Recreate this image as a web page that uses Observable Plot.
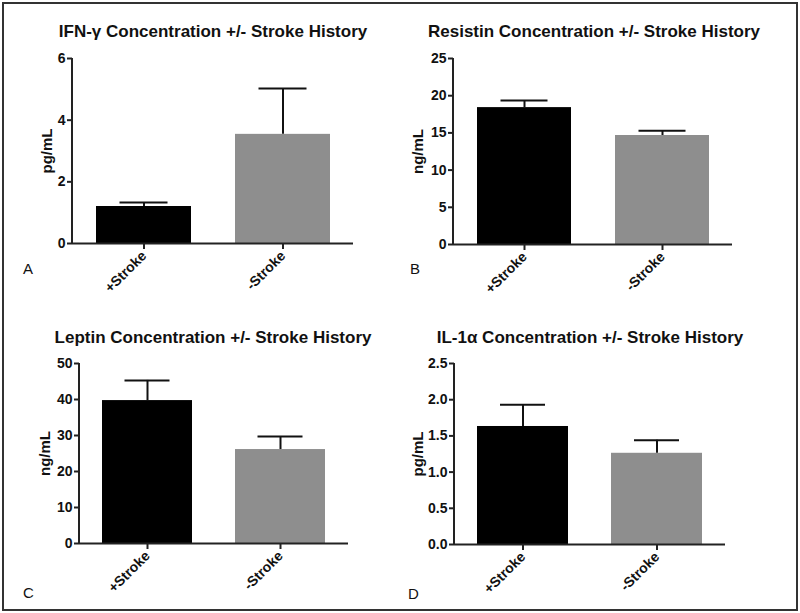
<!DOCTYPE html>
<html>
<head>
<meta charset="utf-8">
<script src="https://cdn.jsdelivr.net/npm/d3@7"></script>
<script src="https://cdn.jsdelivr.net/npm/@observablehq/plot@0.6"></script>
<style>
  html, body { margin: 0; padding: 0; background: #fff; }
  #root { position: relative; width: 800px; height: 613px; overflow: hidden; font-family: "Liberation Sans", Arial, sans-serif; }
  #border { position: absolute; left: 2px; top: 2px; width: 792px; height: 605px; border: 2px solid #333; }
  .panel { position: absolute; }
  .title { position: absolute; font-size: 17px; font-weight: bold; line-height: 17px; white-space: nowrap; transform: translateX(-50%); color: #111; }
  .letter { position: absolute; font-size: 15px; line-height: 15px; color: #111; }
</style>
</head>
<body>
<div id="root"><div id="border"></div></div>
<script>
// ---- data ----
const groups = ["+Stroke", "-Stroke"];
const barColors = ["#000000", "#8e8e8e"];

const ifnMean = [1.2, 3.54];
const ifnSem = [0.13, 1.49];
const ifnTicks = [0, 2, 4, 6];

const resistinMean = [18.4, 14.65];
const resistinSem = [0.95, 0.65];
const resistinTicks = [0, 5, 10, 15, 20, 25];

const leptinMean = [39.7, 26.1];
const leptinSem = [5.6, 3.6];
const leptinTicks = [0, 10, 20, 30, 40, 50];

const il1aMean = [1.63, 1.26];
const il1aSem = [0.30, 0.18];
const il1aTicks = [0, 0.5, 1.0, 1.5, 2.0, 2.5];

const titles = [
  "IFN-\u03b3 Concentration +/- Stroke History",
  "Resistin Concentration +/- Stroke History",
  "Leptin Concentration +/- Stroke History",
  "IL-1\u03b1 Concentration +/- Stroke History"
];
const units = ["pg/mL", "ng/mL", "ng/mL", "pg/mL"];
const letters = ["A", "B", "C", "D"];

// ---- layout ----
const FONT = '"Liberation Sans", Arial, sans-serif';
const panels = [
  {mean: ifnMean, sem: ifnSem, ticks: ifnTicks, fmt: d3.format("d"), left: 0, top: 0,
   m: {l: 72, r: 47, t: 58, b: 63}, cap: 23.5, labelDx: -25, titleX: 213, titleY: 23, letterX: 23, letterY: 261},
  {mean: resistinMean, sem: resistinSem, ticks: resistinTicks, fmt: d3.format("d"), left: 400, top: 0,
   m: {l: 53, r: 68, t: 58, b: 62}, cap: 23.5, labelDx: -35, titleX: 594, titleY: 23, letterX: 410, letterY: 261},
  {mean: leptinMean, sem: leptinSem, ticks: leptinTicks, fmt: d3.format("d"), left: 0, top: 300,
   m: {l: 79, r: 52, t: 63, b: 63}, cap: 22.5, labelDx: -34, titleX: 213, titleY: 329, letterX: 23, letterY: 585},
  {mean: il1aMean, sem: il1aSem, ticks: il1aTicks, fmt: d3.format(".1f"), left: 400, top: 300,
   m: {l: 54, r: 75, t: 63, b: 62}, cap: 23, labelDx: -36, titleX: 590, titleY: 329, letterX: 408, letterY: 586}
];

const root = document.getElementById("root");

// y-axis line along the left edge of the frame
const yAxisLine = (index, scales, values, dims) => {
  const x = dims.marginLeft;
  return d3.create("svg:line")
    .attr("x1", x).attr("x2", x)
    .attr("y1", dims.marginTop).attr("y2", dims.height - dims.marginBottom)
    .attr("stroke", "#222").attr("stroke-width", 2).node();
};

panels.forEach((p, i) => {
  const data = groups.map((g, j) => ({group: g, mean: p.mean[j], upper: p.mean[j] + p.sem[j]}));
  const ymax = p.ticks[p.ticks.length - 1];
  const chart = Plot.plot({
    width: 400,
    height: 306,
    marginLeft: p.m.l,
    marginRight: p.m.r,
    marginTop: p.m.t,
    marginBottom: p.m.b,
    style: {fontFamily: FONT, fontSize: "14px", fontWeight: "bold", background: "transparent", overflow: "visible", color: "#111"},
    x: {domain: groups, paddingInner: 0.32, paddingOuter: 0.165},
    y: {domain: [0, ymax]},
    color: {domain: groups, range: barColors},
    marks: [
      Plot.barY(data, {x: "group", y: "mean", fill: "group"}),
      Plot.ruleX(data, {x: "group", y1: "mean", y2: "upper", stroke: "#111", strokeWidth: 2}),
      Plot.tickY(data, {x: "group", y: "upper", stroke: "#111", strokeWidth: 2, insetLeft: p.cap, insetRight: p.cap}),
      Plot.axisY({ticks: p.ticks, tickFormat: p.fmt, tickSize: 5, tickPadding: 2, strokeWidth: 2, stroke: "#222",
                  fontSize: 14, fontWeight: "bold", fontFamily: FONT, label: null}),
      Plot.axisX({tickSize: 6, tickRotate: -45, tickPadding: 4, strokeWidth: 2, stroke: "#222",
                  fontSize: 14, fontWeight: "bold", fontFamily: FONT, label: null}),
      Plot.ruleY([0], {stroke: "#222", strokeWidth: 2}),
      yAxisLine,
      Plot.text([units[i]], {frameAnchor: "left", rotate: -90, dx: p.labelDx, text: d => d,
                             textAnchor: "middle", lineAnchor: "middle",
                             fontSize: 15, fontWeight: "bold", fontFamily: FONT, fill: "#111"})
    ]
  });
  const wrap = document.createElement("div");
  wrap.className = "panel";
  wrap.style.left = p.left + "px";
  wrap.style.top = p.top + "px";
  wrap.appendChild(chart);
  root.appendChild(wrap);

  const t = document.createElement("div");
  t.className = "title";
  t.textContent = titles[i];
  t.style.left = p.titleX + "px";
  t.style.top = p.titleY + "px";
  root.appendChild(t);

  const l = document.createElement("div");
  l.className = "letter";
  l.textContent = letters[i];
  l.style.left = p.letterX + "px";
  l.style.top = p.letterY + "px";
  root.appendChild(l);
});
</script>
</body>
</html>
